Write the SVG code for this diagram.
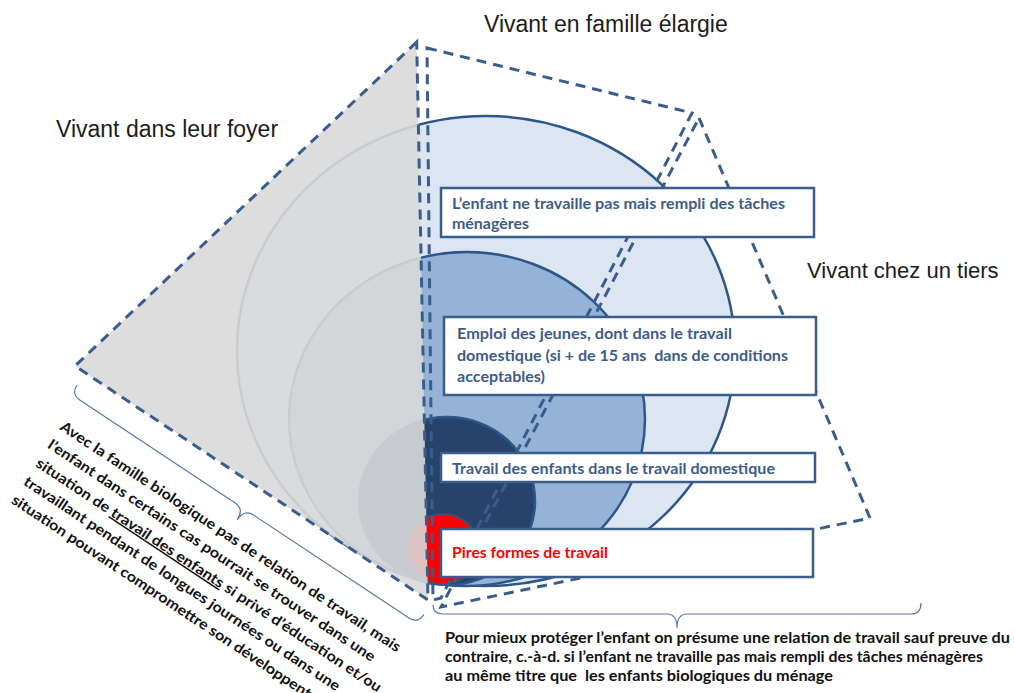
<svg xmlns="http://www.w3.org/2000/svg" width="1014" height="693" viewBox="0 0 1014 693">
<style>
.lbl{font-family:"Liberation Sans",Arial,sans-serif;font-size:23px;fill:#1c1c1c}
.bx{fill:#fff;stroke:#3a5d8c;stroke-width:2.5}
.bt{font-family:Lato,"Open Sans",sans-serif;font-weight:700;font-size:14.5px;fill:#3d5c88}
.nt{font-family:Lato,"Open Sans",sans-serif;font-weight:700;font-size:14.5px;fill:#111}
.dash{fill:none;stroke:#3a5d8c;stroke-width:3;stroke-dasharray:10 7;stroke-linejoin:miter}
.circ{stroke:#2f5689;stroke-width:2.5}
.brace{fill:none;stroke:#5877aa;stroke-width:1.2}
</style>
<rect width="1014" height="693" fill="#fff"/>
<g id="circles">
<ellipse cx="486" cy="351" rx="249" ry="235" fill="#dce6f2" class="circ"/>
<ellipse cx="467" cy="419" rx="178" ry="167" fill="#95b3d7" class="circ"/>
<ellipse cx="447" cy="501" rx="88" ry="84" fill="#27436b" class="circ"/>
<ellipse cx="443" cy="549" rx="36" ry="35" fill="#ff0000" stroke="#2f5689" stroke-width="1.5"/>
</g>
<g id="foyer">
<polygon points="416.7,42 75,366 428,600" fill="#d9d9d9" fill-opacity="0.9"/>
</g>
<g id="connectors">
<polygon class="dash" points="416.7,42 75,366 428,600"/>
<polygon class="dash" points="427,48 692,113 441,598 433,600"/>
<polygon class="dash" points="699,118 870,518 441,607"/>
</g>
<g id="box1">
<rect class="bx" x="441" y="188" width="373" height="49"/>
<text class="bt" x="452" y="209" textLength="333" lengthAdjust="spacingAndGlyphs">L’enfant ne travaille pas mais rempli des tâches</text>
<text class="bt" x="452" y="229" textLength="77" lengthAdjust="spacingAndGlyphs">ménagères</text>
</g>
<g id="box2">
<rect class="bx" x="444" y="317" width="372" height="78"/>
<text class="bt" x="457" y="339" textLength="275" lengthAdjust="spacingAndGlyphs">Emploi des jeunes, dont dans le travail</text>
<text class="bt" x="457" y="361" textLength="331" lengthAdjust="spacingAndGlyphs" xml:space="preserve">domestique (si + de 15 ans  dans de conditions</text>
<text class="bt" x="457" y="382" textLength="88" lengthAdjust="spacingAndGlyphs">acceptables)</text>
</g>
<g id="box3">
<rect class="bx" x="441" y="453" width="374" height="29"/>
<text class="bt" x="452" y="474" textLength="323" lengthAdjust="spacingAndGlyphs">Travail des enfants dans le travail domestique</text>
</g>
<g id="box4">
<rect class="bx" x="441" y="529" width="372" height="48"/>
<text class="bt" x="452" y="558" textLength="156" lengthAdjust="spacingAndGlyphs" style="fill:#ff0000">Pires formes de travail</text>
</g>
<g id="labels">
<text class="lbl" x="484" y="32">Vivant en famille élargie</text>
<text class="lbl" x="56" y="137">Vivant dans leur foyer</text>
<text class="lbl" x="807" y="278" style="font-size:22px">Vivant chez un tiers</text>
</g>
<g id="note-left">
<path class="brace" transform="translate(77,385) rotate(33.5)" d="M0,0 Q0,11 11,11 L197,11 Q208,11 208,24 Q208,11 219,11 L405,11 Q416,11 416,0"/>
<g transform="translate(59,429) rotate(33.5)">
<text class="nt" x="0" y="0" textLength="405" lengthAdjust="spacingAndGlyphs">Avec la famille biologique pas de relation de travail, mais</text>
<text class="nt" x="0" y="22" textLength="389" lengthAdjust="spacingAndGlyphs">l’enfant dans certains cas pourrait se trouver dans une</text>
<text class="nt" x="0" y="44" textLength="411" lengthAdjust="spacingAndGlyphs">situation de <tspan text-decoration="underline">travail des enfants</tspan> si privé d’éducation et/ou</text>
<text class="nt" x="0" y="66" textLength="376" lengthAdjust="spacingAndGlyphs">travaillant pendant de longues journées ou dans une</text>
<text class="nt" x="0" y="88" textLength="356" lengthAdjust="spacingAndGlyphs">situation pouvant compromettre son développent</text>
</g>
</g>
<g id="note-bottom">
<path class="brace" d="M433,605 Q433,614 443,614 L667,614 Q677,614 677,628 Q677,614 687,614 L911,614 Q921,614 921,603"/>
<text class="nt" x="445" y="643" textLength="565" lengthAdjust="spacingAndGlyphs">Pour mieux protéger l’enfant on présume une relation de travail sauf preuve du</text>
<text class="nt" x="445" y="662" textLength="538" lengthAdjust="spacingAndGlyphs">contraire, c.-à-d. si l’enfant ne travaille pas mais rempli des tâches ménagères</text>
<text class="nt" x="445" y="681" textLength="388" lengthAdjust="spacingAndGlyphs" xml:space="preserve">au même titre que  les enfants biologiques du ménage</text>
</g>
</svg>
